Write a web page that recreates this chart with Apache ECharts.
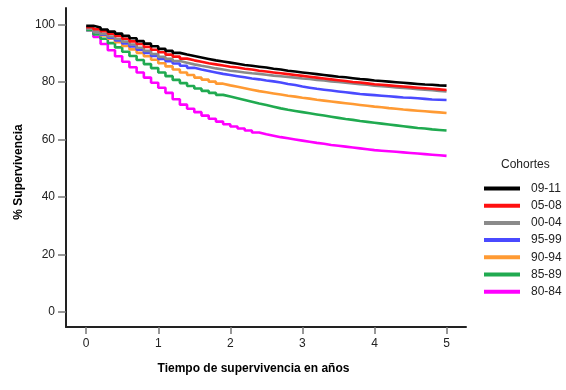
<!DOCTYPE html>
<html>
<head>
<meta charset="utf-8">
<script src="https://cdn.jsdelivr.net/npm/echarts@6/dist/echarts.min.js"></script>
<style>html,body{margin:0;padding:0;background:#fff}#c{width:566px;height:390px}</style>
</head>
<body>
<div id="c"></div>
<script>
// Time points (years), every 0.1 year
const times = [0,0.1,0.2,0.3,0.4,0.5,0.6,0.7,0.8,0.9,1.0,1.1,1.2,1.3,1.4,1.5,1.6,1.7,1.8,1.9,
  2.0,2.1,2.2,2.3,2.4,2.5,2.6,2.7,2.8,2.9,3.0,3.1,3.2,3.3,3.4,3.5,3.6,3.7,3.8,3.9,
  4.0,4.1,4.2,4.3,4.4,4.5,4.6,4.7,4.8,4.9,5.0];

const cohortNames = ['09-11','05-08','00-04','95-99','90-94','85-89','80-84'];
const cohortColors = ['#000000','#ff1010','#8a8a8a','#4a4aff','#ff9a33','#20aa50','#ff00ff'];

const s0911 = [99.5,98.9,98.2,97.5,96.8,96.0,95.2,94.2,93.3,92.4,91.5,90.8,90.1,89.5,89.0,88.5,88.0,87.5,87.1,86.7,
  86.3,85.9,85.6,85.3,85.0,84.6,84.3,83.9,83.6,83.3,83.0,82.7,82.4,82.1,81.8,81.6,81.3,81.0,80.8,80.5,
  80.3,80.1,79.9,79.7,79.5,79.3,79.1,79.0,78.8,78.7,78.6];
const s0508 = [99.0,98.3,97.6,96.8,96.0,95.0,94.1,93.2,92.2,91.2,90.3,89.5,88.8,88.1,87.5,87.0,86.5,86.1,85.7,85.3,
  85.0,84.6,84.3,83.9,83.6,83.3,83.0,82.7,82.4,82.1,81.8,81.5,81.2,80.9,80.6,80.3,80.0,79.8,79.5,79.2,
  79.0,78.8,78.6,78.4,78.2,78.0,77.8,77.6,77.4,77.2,77.1];
const s0004 = [98.5,97.5,96.7,95.8,94.9,94.0,93.0,91.9,90.8,89.7,88.7,88.0,87.3,86.7,86.1,85.6,85.2,84.7,84.3,83.9,
  83.6,83.3,83.0,82.8,82.5,82.2,82.0,81.7,81.5,81.2,81.0,80.7,80.5,80.2,80.0,79.7,79.5,79.2,79.0,78.7,
  78.5,78.3,78.1,77.9,77.7,77.5,77.3,77.1,76.9,76.7,76.6];
const s9599 = [98.5,97.4,96.4,95.4,94.4,93.4,92.3,91.2,90.1,89.0,88.0,87.2,86.4,85.6,84.9,84.3,83.8,83.3,82.8,82.4,
  82.0,81.6,81.2,80.9,80.5,80.2,79.8,79.3,78.9,78.4,78.0,77.6,77.3,77.0,76.7,76.4,76.1,75.8,75.6,75.4,
  75.2,75.0,74.8,74.6,74.5,74.3,74.1,73.9,73.8,73.7,73.6];
const s9094 = [98.5,97.4,96.2,95.0,93.8,92.5,91.3,90.1,88.9,87.7,86.5,85.4,84.3,83.3,82.4,81.5,80.8,80.1,79.4,78.8,
  78.3,77.8,77.3,76.8,76.4,76.0,75.6,75.2,74.9,74.5,74.2,73.8,73.5,73.2,72.9,72.6,72.3,72.0,71.7,71.4,
  71.2,70.9,70.7,70.4,70.2,70.0,69.8,69.6,69.4,69.2,69.0];
const s8589 = [98.0,96.5,95.0,93.5,92.0,90.5,89.0,87.6,86.2,84.8,83.3,82.0,80.7,79.6,78.6,77.7,76.9,76.2,75.5,74.9,
  74.3,73.7,73.1,72.5,72.0,71.4,70.8,70.3,69.9,69.5,69.1,68.7,68.3,67.9,67.5,67.1,66.8,66.4,66.1,65.8,
  65.5,65.2,64.9,64.6,64.3,64.0,63.8,63.5,63.3,63.1,62.9];
const s8084 = [98.0,95.6,93.2,91.0,88.9,87.0,85.1,83.3,81.5,79.7,78.0,76.2,74.0,72.1,70.7,69.5,68.3,67.2,66.2,65.3,
  64.5,63.8,63.1,62.4,61.8,61.3,60.8,60.4,60.0,59.6,59.2,58.8,58.5,58.1,57.8,57.5,57.2,56.9,56.6,56.3,
  56.1,55.9,55.7,55.5,55.3,55.1,54.9,54.7,54.5,54.3,54.2];

const xTicks = [0,1,2,3,4,5];
const yTicks = [0,20,40,60,80,100];

const allSeries = [s0911,s0508,s0004,s9599,s9094,s8589,s8084];

const chart = echarts.init(document.getElementById('c'), null, {renderer:'canvas'});
const font = '"Liberation Sans", Arial, sans-serif';

const series = [];
for (let i = allSeries.length - 1; i >= 0; i--) {
  series.push({
    name: cohortNames[i],
    type: 'line',
    step: 'end',
    symbol: 'none',
    data: times.map((t, k) => [t, allSeries[i][k]]),
    lineStyle: {color: cohortColors[i], width: 2.6},
    itemStyle: {color: cohortColors[i]},
    animation: false,
    z: 2
  });
}

chart.setOption({
  animation: false,
  backgroundColor: '#ffffff',
  grid: {left: 66, top: 8, width: 400, height: 319, containLabel: false},
  xAxis: {
    type: 'value', min: -0.28, max: 5.27,
    axisLine: {show: true, onZero: false, lineStyle: {color: '#222', width: 2}},
    axisTick: {show: true, length: 7, customValues: xTicks, lineStyle: {color: '#777', width: 1.5}},
    axisLabel: {customValues: xTicks, margin: 11, fontSize: 12, color: '#222', fontFamily: font},
    splitLine: {show: false}
  },
  yAxis: {
    type: 'value', min: -5.2, max: 105.7,
    axisLine: {show: true, onZero: false, lineStyle: {color: '#222', width: 2}},
    axisTick: {show: true, length: 8, customValues: yTicks, lineStyle: {color: '#777', width: 1.5}},
    axisLabel: {customValues: yTicks, margin: 11, fontSize: 12, color: '#222', fontFamily: font},
    splitLine: {show: false}
  },
  legend: {
    orient: 'vertical',
    left: 479, top: 175,
    itemWidth: 36, itemHeight: 4,
    itemGap: 0.2,
    icon: 'rect',
    data: cohortNames,
    textStyle: {fontSize: 12, color: '#222', fontFamily: font, lineHeight: 17, padding: [0,0,0,6]}
  },
  graphic: [
    {type: 'text', left: 501, top: 159, style: {text: 'Cohortes', fontSize: 12, fill: '#222', fontFamily: font}},
    {type: 'text', x: 253.5, y: 369, style: {text: 'Tiempo de supervivencia en años', fontSize: 12, fontWeight: 'bold', fill: '#000', fontFamily: font, align: 'center', verticalAlign: 'middle'}},
    {type: 'text', x: 19, y: 172, rotation: Math.PI/2, style: {text: '% Supervivencia', fontSize: 12, fontWeight: 'bold', fill: '#000', fontFamily: font, align: 'center', verticalAlign: 'middle'}}
  ],
  series: series
});
</script>
</body>
</html>
